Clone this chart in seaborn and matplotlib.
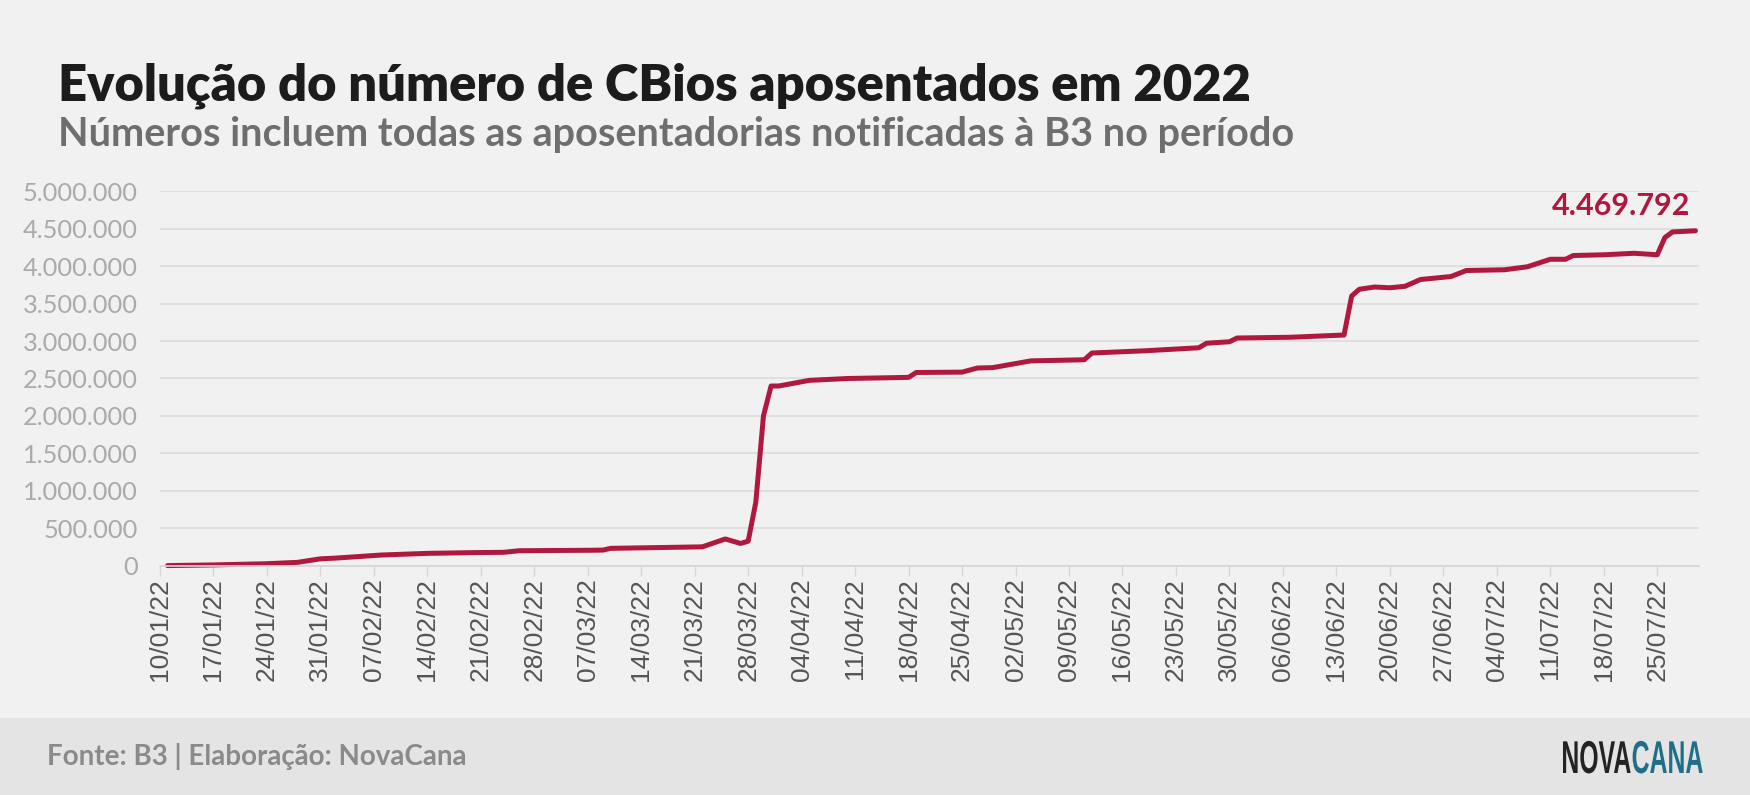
import pandas as pd
import seaborn as sns
import matplotlib
matplotlib.use("Agg")
import matplotlib.pyplot as plt
import matplotlib.dates as mdates
from matplotlib.ticker import FuncFormatter
from matplotlib.textpath import TextPath
from matplotlib.font_manager import FontProperties
from matplotlib.patches import PathPatch
from matplotlib.transforms import Affine2D

# valores (acumulado de CBios aposentados)
dates = ["2022-01-11", "2022-01-17", "2022-01-24", "2022-01-28", "2022-01-31",
         "2022-02-02", "2022-02-08", "2022-02-14", "2022-02-20", "2022-02-24",
         "2022-02-26", "2022-03-08", "2022-03-09", "2022-03-10", "2022-03-16",
         "2022-03-22", "2022-03-25", "2022-03-27", "2022-03-28", "2022-03-29",
         "2022-03-30", "2022-03-31", "2022-04-01", "2022-04-05", "2022-04-10",
         "2022-04-18", "2022-04-19", "2022-04-25", "2022-04-27", "2022-04-29",
         "2022-05-04", "2022-05-11", "2022-05-12", "2022-05-19", "2022-05-26",
         "2022-05-27", "2022-05-30", "2022-05-31", "2022-06-07", "2022-06-14",
         "2022-06-15", "2022-06-16", "2022-06-18", "2022-06-20", "2022-06-22",
         "2022-06-24", "2022-06-28", "2022-06-30", "2022-07-05", "2022-07-08",
         "2022-07-11", "2022-07-13", "2022-07-14", "2022-07-18", "2022-07-22",
         "2022-07-25", "2022-07-26", "2022-07-27", "2022-07-30"]
values = [5000, 14000, 30000, 48000, 95000,
          105000, 146000, 168000, 178000, 182000,
          203000, 210000, 212000, 235000, 245000,
          255000, 360000, 300000, 330000, 850000,
          2000000, 2400000, 2400000, 2475000, 2500000,
          2515000, 2580000, 2585000, 2640000, 2645000,
          2735000, 2750000, 2840000, 2870000, 2910000,
          2970000, 2990000, 3040000, 3050000, 3080000,
          3600000, 3690000, 3720000, 3710000, 3730000,
          3820000, 3860000, 3940000, 3950000, 3990000,
          4090000, 4090000, 4140000, 4150000, 4170000,
          4150000, 4380000, 4455000, 4469792]

df = pd.DataFrame({"data": pd.to_datetime(dates), "cbios": values})

bg = "#f1f1f1"
red = "#b0193f"

sns.set_theme(style="white")
plt.rcParams["font.family"] = ["Lato", "DejaVu Sans"]

fig = plt.figure(figsize=(17.5, 7.95), dpi=100, facecolor=bg)
ax = fig.add_axes([0.0914, 0.2881, 0.971 - 0.0914, 0.7597 - 0.2881], facecolor=bg)

sns.lineplot(data=df, x="data", y="cbios", color=red, linewidth=3.6, ax=ax, clip_on=False)

ax.set_ylim(0, 5000000)
ax.set_xlim(pd.Timestamp("2022-01-10"), pd.Timestamp("2022-07-30 12:00"))
ax.set_yticks(range(0, 5000001, 500000))
ax.yaxis.set_major_formatter(FuncFormatter(lambda v, p: f"{int(v):,}".replace(",", ".")))
ax.xaxis.set_major_locator(mdates.WeekdayLocator(byweekday=mdates.MO))
ax.xaxis.set_major_formatter(mdates.DateFormatter("%d/%m/%y"))

ax.grid(axis="y", color="#dcdcdc", linewidth=1.2)
ax.grid(axis="x", visible=False)
for s in ["top", "right", "left"]:
    ax.spines[s].set_visible(False)
ax.spines["bottom"].set_color("#d6d6d6")
ax.spines["bottom"].set_linewidth(1.2)

ax.tick_params(axis="y", length=0, pad=16, labelsize=18.3, labelcolor="#aaaaaa")
ax.tick_params(axis="x", bottom=True, length=7, width=1, color="#d6d6d6", pad=2,
               labelsize=19, labelcolor="#555555", rotation=90)
for lab in ax.get_xticklabels():
    lab.set_fontfamily("Liberation Sans")
ax.set_xlabel("")
ax.set_ylabel("")

# rótulo do último valor
last_x = df["data"].iloc[-1]
last_y = df["cbios"].iloc[-1]
ax.annotate(f"{last_y:,}".replace(",", "."), (last_x, last_y), xytext=(-3.5, 8),
            textcoords="offset points", ha="right", va="bottom",
            fontsize=22, fontweight="bold", color=red)

fig.text(0.033, 0.874, "Evolução do número de CBios aposentados em 2022",
         fontsize=36.5, fontweight="heavy", color="#1c1c1c", va="baseline")
fig.text(0.033, 0.816, "Números incluem todas as aposentadorias notificadas à B3 no período",
         fontsize=28.5, fontweight="bold", color="#6e6e6e", va="baseline")

# rodapé
fig.patches.append(plt.Rectangle((0, 0), 1, 77 / 795, transform=fig.transFigure,
                                 facecolor="#e4e4e4", edgecolor="none", zorder=0))
fig.text(0.027, 0.048, "Fonte: B3 | Elaboração: NovaCana", fontsize=20,
         fontweight="bold", color="#8a8a8a", va="center")

# logotipo em letras condensadas
fp = FontProperties(family="Liberation Sans", weight="bold")
x = 1563
for word, col in [("NOVA", "#232323"), ("CANA", "#1f6f88")]:
    tp = TextPath((0, 0), word, size=46, prop=fp)
    ext = tp.get_extents()
    tr = Affine2D().translate(-ext.x0, 0).scale(0.54, 1).translate(x, 795 - 773)
    fig.add_artist(PathPatch(tp, transform=tr, facecolor=col, edgecolor="none"))
    x += ext.width * 0.54 + 2

fig.savefig("out.png", dpi=100, facecolor=bg)
